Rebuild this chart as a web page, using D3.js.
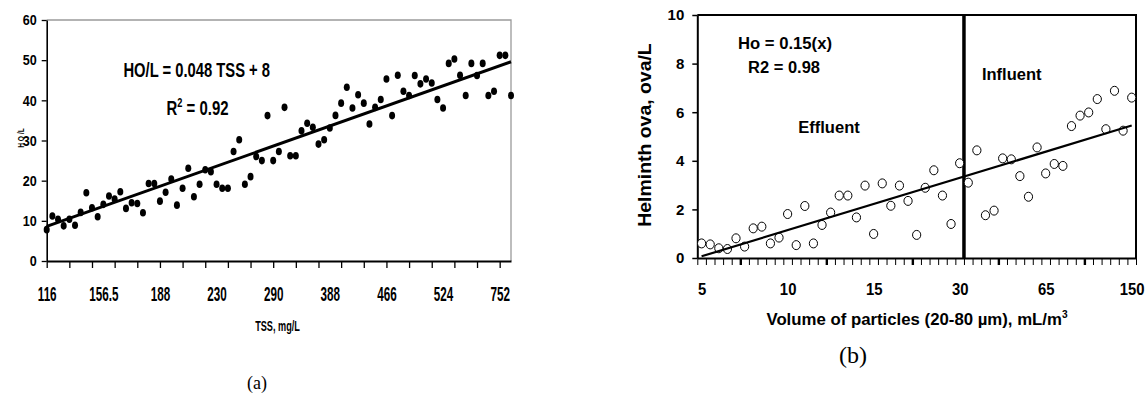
<!DOCTYPE html>
<html>
<head>
<meta charset="utf-8">
<script src="https://cdn.jsdelivr.net/npm/d3@7"></script>
<style>
  body { margin: 0; background: #fff; }
  text { font-family: "Liberation Sans", Arial, sans-serif; font-weight: bold; fill: #000; }
  .serif { font-family: "Liberation Serif", "Times New Roman", serif; font-weight: normal; }
</style>
</head>
<body>
<svg id="fig" width="1146" height="403"></svg>
<script>
// (a) helminth ova per litre against TSS, one value per sample (category axis)
var hoL = [7.8, 11.2, 10.4, 8.75, 10.4, 8.9, 12.1, 17, 13.25, 11,
  14.1, 16.2, 15.4, 17.25, 13.1, 14.5, 14.3, 12, 19.3, 19.3,
  14.9, 17.1, 20.4, 13.9, 18.1, 23.1, 16, 19.1, 22.7, 22.25,
  19.1, 18.1, 18.1, 27.25, 30.2, 19.1, 21, 26, 25, 36.2,
  25, 27.25, 38.25, 26.2, 26.2, 32.4, 34.3, 33.3, 29.1, 30.2,
  33.1, 36.25, 39.3, 43.25, 38.1, 41.4, 39.3, 34.1, 38.25, 40.2,
  45.3, 36.2, 46.25, 42.25, 41.2, 46.2, 44.1, 45.3, 44.3, 40.2,
  38.1, 49.2, 50.3, 46.25, 41.2, 49.2, 46.2, 49.2, 41.2, 42.25,
  51.2, 51.2, 41.2];
var hoTrend = [8.6, 49.6];
var hoTicks = [0, 10, 20, 30, 40, 50, 60];
var tssLabels = ["116", "156.5", "188", "230", "290", "388", "466", "524", "752"];

// (b) helminth ova against volume of particles
var helminth = [0.60, 0.56, 0.40, 0.37, 0.81, 0.47, 1.22, 1.29, 0.60, 0.84,
  1.81, 0.53, 2.14, 0.60, 1.36, 1.87, 2.57, 2.57, 1.67, 2.98,
  0.99, 3.07, 2.15, 2.98, 2.35, 0.95, 2.89, 3.61, 2.57, 1.40,
  3.90, 3.10, 4.43, 1.76, 1.95, 4.10, 4.06, 3.37, 2.52, 4.55,
  3.48, 3.87, 3.79, 5.43, 5.86, 5.99, 6.54, 5.30, 6.88, 5.24, 6.60];
var helTrend = [0.07, 5.45];
var helTicks = [0, 2, 4, 6, 8, 10];
var volLabels = ["5", "10", "15", "30", "65", "150"];
var splitAt = 30.5; // effluent | influent

var svg = d3.select("#fig");

// centre a text on x,y and squeeze it to a given width
function fit(sel, x, y, w, rot) {
  sel.attr("text-anchor", "middle");
  var k = w ? w / sel.node().getBBox().width : 1;
  sel.attr("transform", "translate(" + x + "," + y + ") rotate(" + (rot || 0) + ") scale(" + k + ",1)");
  return sel;
}

// ---------- (a) ----------
var xa = d3.scaleLinear().domain([0, hoL.length - 1]).range([46.7, 511]);
var ya = d3.scaleLinear().domain([0, 60]).range([261, 20]);
var ga = svg.append("g");

ga.append("path")
  .attr("d", "M" + xa(0) + "," + ya(60) + "H" + xa(hoL.length - 1) + "V" + ya(0))
  .attr("fill", "none").attr("stroke", "#9a9a9a").attr("stroke-width", 1.3);

var yAxA = ga.append("g")
  .attr("transform", "translate(" + xa(0) + ",0)")
  .call(d3.axisLeft(ya).tickValues(hoTicks).tickSize(5).tickSizeOuter(0));
yAxA.select(".domain").attr("stroke-width", 1.6);
yAxA.selectAll(".tick line").attr("stroke-width", 1.3);
yAxA.selectAll("text").attr("x", 0).style("font-size", "15px")
  .attr("transform", "translate(-10,0) scale(0.84,1)");

var xAxA = ga.append("g")
  .attr("transform", "translate(0," + ya(0) + ")")
  .call(d3.axisBottom(xa).tickValues(d3.range(0, hoL.length - 1, 4)).tickSize(7).tickSizeOuter(0).tickFormat(""));
xAxA.select(".domain").attr("stroke-width", 2);
xAxA.selectAll(".tick line").attr("stroke-width", 1.3);

var xLabA = ga.append("g")
  .attr("transform", "translate(0," + ya(0) + ")")
  .call(d3.axisBottom(xa).tickValues(tssLabels.map(function(d, i) { return i * 10; }))
    .tickSize(0).tickFormat(function(d) { return tssLabels[d / 10]; }));
xLabA.select(".domain").remove();
xLabA.selectAll("text").attr("y", 0).attr("dy", null).style("font-size", "20.5px")
  .attr("transform", "translate(0,39.7) scale(0.57,1)");

ga.append("g").selectAll("ellipse")
  .data(hoL)
  .join("ellipse")
    .attr("cx", function(d, i) { return xa(i); })
    .attr("cy", function(d) { return ya(d); })
    .attr("rx", 3).attr("ry", 3.8)
    .attr("fill", "#000");

ga.append("path")
  .datum([[0, hoTrend[0]], [hoL.length - 1, hoTrend[1]]])
  .attr("d", d3.line().x(function(d) { return xa(d[0]); }).y(function(d) { return ya(d[1]); }))
  .attr("stroke", "#000").attr("stroke-width", 3).attr("fill", "none");

fit(ga.append("text").style("font-size", "21px").text("HO/L = 0.048 TSS + 8"), 196.7, 76.5, 147);
var r2 = ga.append("text").style("font-size", "21px");
r2.append("tspan").text("R");
r2.append("tspan").attr("dy", -8).style("font-size", "13px").text("2");
r2.append("tspan").attr("dy", 8).text(" = 0.92");
fit(r2, 197.5, 115, 62);

fit(ga.append("text").style("font-size", "9px").text("H O /L"), 24, 138, 20, -90);
fit(ga.append("text").style("font-size", "14px").text("TSS, mg/L"), 277.5, 331, 45);
fit(ga.append("text").attr("class", "serif").style("font-size", "18px").text("(a)"), 257, 389);

// ---------- (b) ----------
var xb = d3.scaleLinear().domain([-0.5, helminth.length - 0.5]).range([697.3, 1136]);
var yb = d3.scaleLinear().domain([0, 10]).range([258, 15]);
var gb = svg.append("g");

gb.append("path")
  .attr("d", "M" + xb(-0.5) + "," + yb(10) + "H" + xb(helminth.length - 0.5) + "V" + yb(0))
  .attr("fill", "none").attr("stroke", "#000").attr("stroke-width", 2);

var yAxB = gb.append("g")
  .attr("transform", "translate(" + xb(-0.5) + ",0)")
  .call(d3.axisLeft(yb).tickValues(helTicks).tickSize(5).tickSizeOuter(0).tickPadding(8));
yAxB.select(".domain").attr("stroke-width", 2);
yAxB.selectAll(".tick line").attr("stroke-width", 1.5);
yAxB.selectAll("text").style("font-size", "15px");

var xAxB = gb.append("g")
  .attr("transform", "translate(0," + yb(0) + ")")
  .call(d3.axisBottom(xb).tickValues(d3.range(-0.5, helminth.length, 1)).tickSize(7).tickSizeOuter(0).tickFormat(""));
xAxB.select(".domain").attr("stroke-width", 2);
xAxB.selectAll(".tick line").attr("stroke-width", function(d) { return (d + 0.5) % 10 === 5 ? 2.4 : 1; });

var xLabB = gb.append("g")
  .attr("transform", "translate(0," + yb(0) + ")")
  .call(d3.axisBottom(xb).tickValues(volLabels.map(function(d, i) { return i * 10; }))
    .tickSize(0).tickFormat(function(d) { return volLabels[d / 10]; }));
xLabB.select(".domain").remove();
xLabB.selectAll("text").attr("y", 0).attr("dy", null).style("font-size", "16px")
  .attr("transform", "translate(0,37) scale(0.93,1)");

gb.append("line")
  .attr("x1", xb(splitAt)).attr("x2", xb(splitAt))
  .attr("y1", yb(10)).attr("y2", yb(0))
  .attr("stroke", "#000").attr("stroke-width", 3.5);

gb.append("g").selectAll("ellipse")
  .data(helminth)
  .join("ellipse")
    .attr("cx", function(d, i) { return xb(i); })
    .attr("cy", function(d) { return yb(d); })
    .attr("rx", 4.1).attr("ry", 4.5)
    .attr("fill", "#fff").attr("stroke", "#000").attr("stroke-width", 1);

gb.append("path")
  .datum([[0, helTrend[0]], [helminth.length - 1, helTrend[1]]])
  .attr("d", d3.line().x(function(d) { return xb(d[0]); }).y(function(d) { return yb(d[1]); }))
  .attr("stroke", "#000").attr("stroke-width", 2.2).attr("fill", "none");

fit(gb.append("text").style("font-size", "17px").text("Ho = 0.15(x)"), 785, 48.5, 94);
fit(gb.append("text").style("font-size", "17px").text("R2 = 0.98"), 784, 72.5, 72);
fit(gb.append("text").style("font-size", "17px").text("Effluent"), 829, 133.3, 62);
fit(gb.append("text").style("font-size", "17px").text("Influent"), 1011.7, 80, 60);
fit(gb.append("text").style("font-size", "19px").text("Helminth ova, ova/L"), 651, 135, 184, -90);

var vt = gb.append("text").style("font-size", "16.5px");
vt.append("tspan").text("Volume of particles (20-80 \u00b5m), mL/m");
vt.append("tspan").attr("dy", -7).style("font-size", "10px").text("3");
fit(vt, 917, 325, 302);

fit(gb.append("text").attr("class", "serif").style("font-size", "24px").text("(b)"), 853, 363);
</script>
</body>
</html>
